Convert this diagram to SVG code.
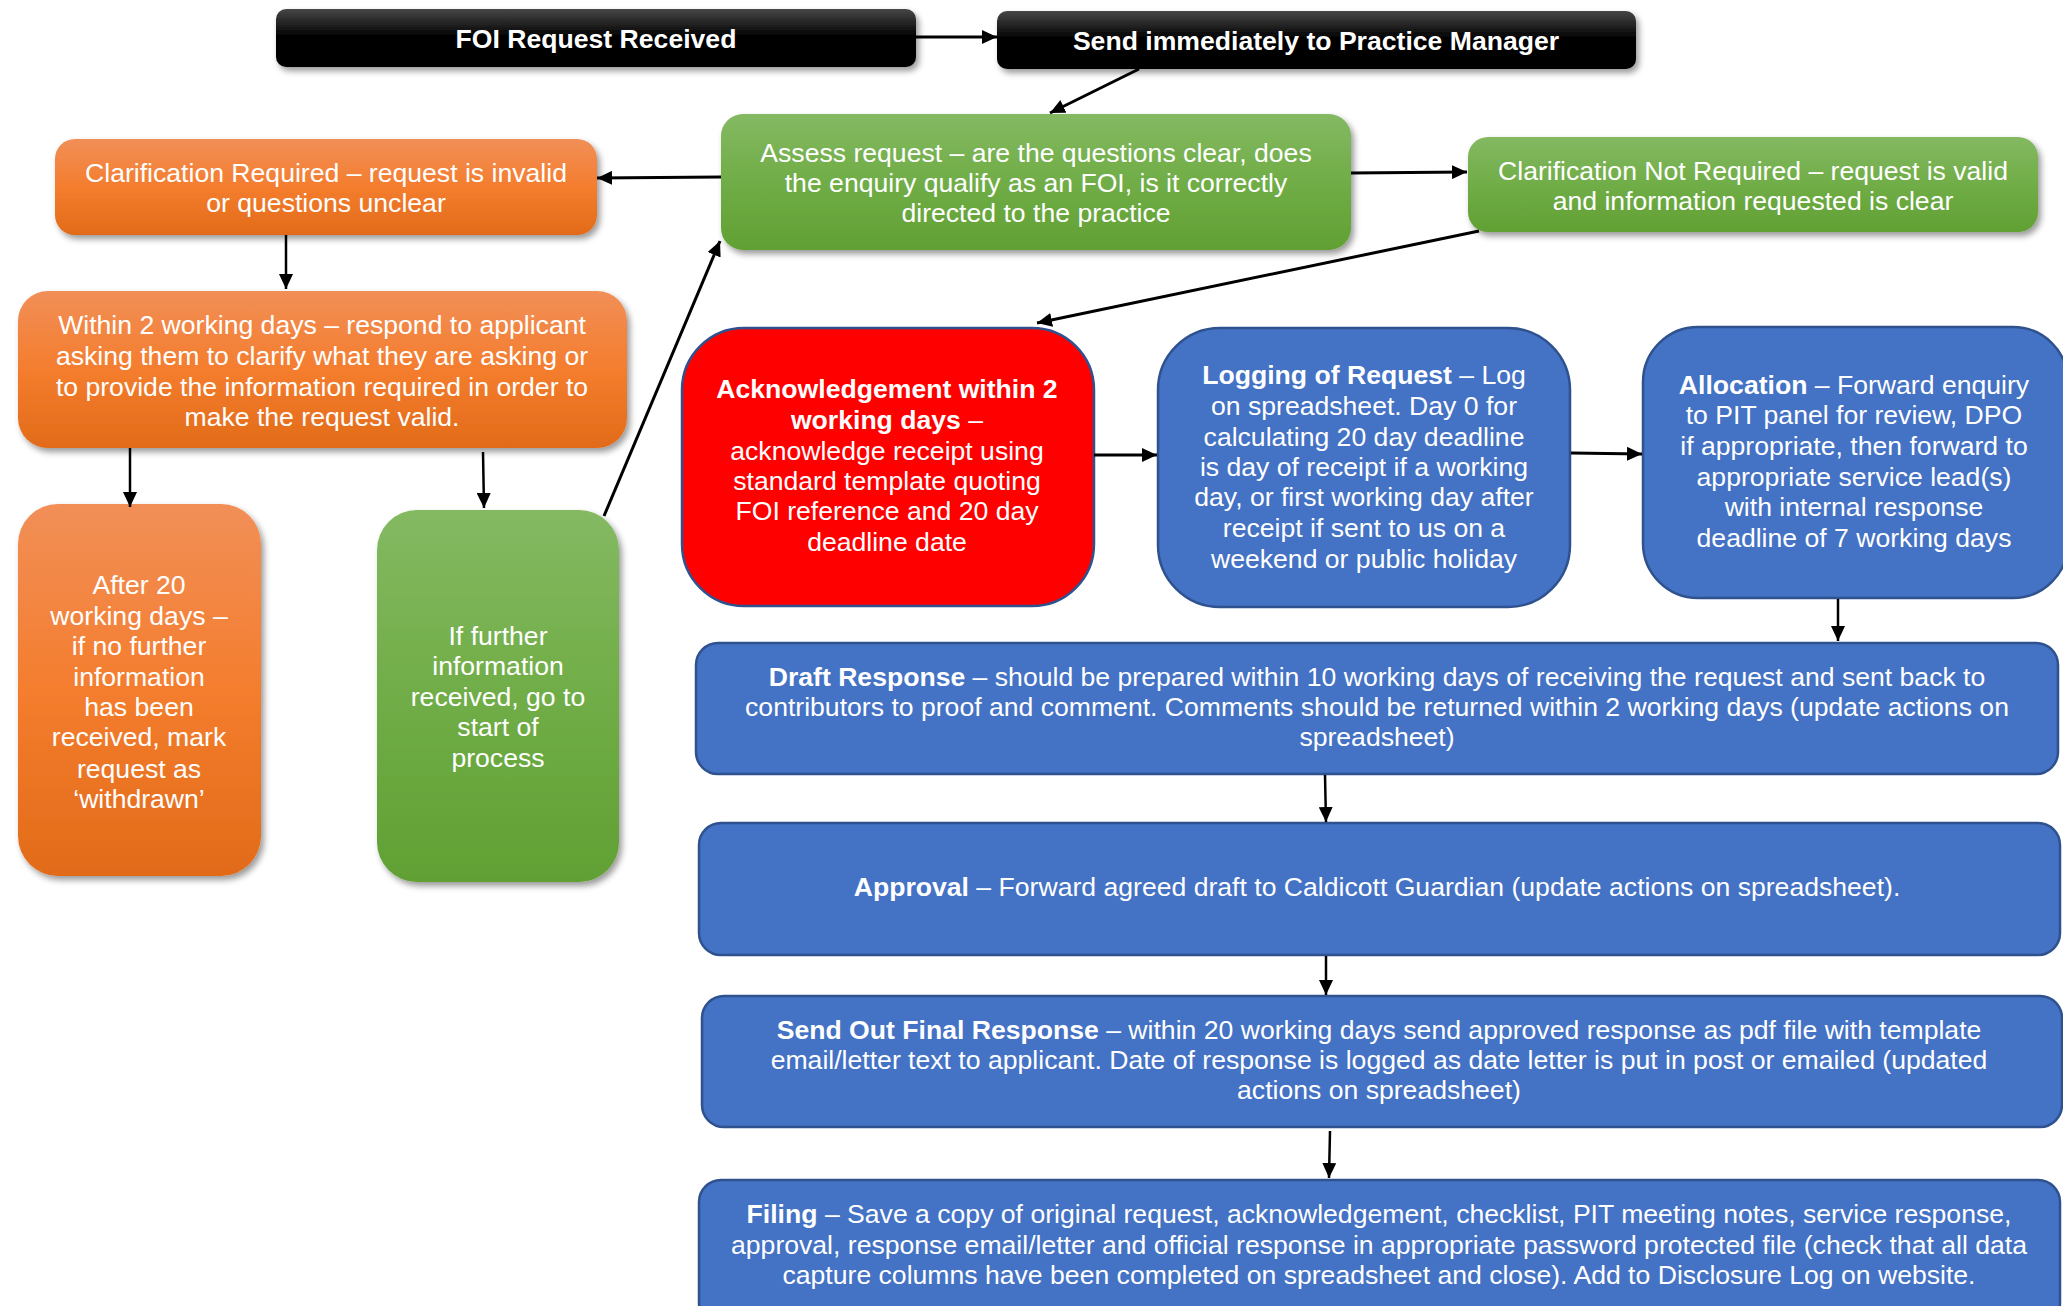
<svg xmlns="http://www.w3.org/2000/svg" width="2063" height="1306" viewBox="0 0 2063 1306">
<defs>
<linearGradient id="gBlack" x1="0" y1="0" x2="0" y2="1">
<stop offset="0" stop-color="#474747"/><stop offset="0.45" stop-color="#050505"/><stop offset="1" stop-color="#000"/>
</linearGradient>
<linearGradient id="gOrange" x1="0" y1="0" x2="0" y2="1">
<stop offset="0" stop-color="#F18F57"/><stop offset="0.5" stop-color="#F47D2E"/><stop offset="1" stop-color="#E26B19"/>
</linearGradient>
<linearGradient id="gGreen" x1="0" y1="0" x2="0" y2="1">
<stop offset="0" stop-color="#84B962"/><stop offset="0.5" stop-color="#70AD47"/><stop offset="1" stop-color="#61A033"/>
</linearGradient>
<filter id="shadow" x="-10%" y="-20%" width="125%" height="150%">
<feDropShadow dx="3" dy="4" stdDeviation="3" flood-color="#000" flood-opacity="0.4"/>
</filter>
<marker id="arr" markerUnits="userSpaceOnUse" markerWidth="16" markerHeight="14" refX="15" refY="7" orient="auto">
<path d="M0,0 L15,7 L0,14 z" fill="#000"/>
</marker>
</defs>
<style>
text{font-family:"Liberation Sans",Arial,sans-serif;font-size:26.6px;fill:#fff;text-anchor:middle}
.b{font-weight:bold}
.blk{fill:url(#gBlack);filter:url(#shadow)}
.org{fill:url(#gOrange);filter:url(#shadow)}
.grn{fill:url(#gGreen);filter:url(#shadow)}
.blu{fill:#4472C4;stroke:#2F528F;stroke-width:2.5}
.red{fill:#FF0000;stroke:#2F528F;stroke-width:2.5}
.c{stroke:#000;stroke-width:3;fill:none;marker-end:url(#arr)}
.t{stroke-width:2.5}
</style>
<rect width="2063" height="1306" fill="#fff"/>

<g id="foi-received">
<rect class="blk" x="276" y="9" width="640" height="58" rx="10"/>
<text class="b" x="596" y="48">FOI Request Received</text>
</g>
<g id="send-pm">
<rect class="blk" x="997" y="11" width="639" height="58" rx="10"/>
<text class="b" x="1316" y="50">Send immediately to Practice Manager</text>
</g>
<g id="assess">
<rect class="grn" x="721" y="114" width="630" height="136" rx="22"/>
<text x="1036" y="162">Assess request – are the questions clear, does</text>
<text x="1036" y="192">the enquiry qualify as an FOI, is it correctly</text>
<text x="1036" y="222">directed to the practice</text>
</g>
<g id="clar-required">
<rect class="org" x="55" y="139" width="542" height="96" rx="20"/>
<text x="326" y="182">Clarification Required – request is invalid</text>
<text x="326" y="212">or questions unclear</text>
</g>
<g id="clar-not-required">
<rect class="grn" x="1468" y="137" width="570" height="95" rx="20"/>
<text x="1753" y="180">Clarification Not Required – request is valid</text>
<text x="1753" y="210">and information requested is clear</text>
</g>
<g id="within-2">
<rect class="org" x="18" y="291" width="609" height="157" rx="30"/>
<text x="322" y="334">Within 2 working days – respond to applicant</text>
<text x="322" y="365">asking them to clarify what they are asking or</text>
<text x="322" y="396">to provide the information required in order to</text>
<text x="322" y="426">make the request valid.</text>
</g>
<g id="after-20">
<rect class="org" x="18" y="504" width="243" height="372" rx="40"/>
<text x="139" y="594">After 20</text>
<text x="139" y="625">working days –</text>
<text x="139" y="655">if no further</text>
<text x="139" y="686">information</text>
<text x="139" y="716">has been</text>
<text x="139" y="746">received, mark</text>
<text x="139" y="778">request as</text>
<text x="139" y="808">‘withdrawn’</text>
</g>
<g id="if-further">
<rect class="grn" x="377" y="510" width="242" height="372" rx="40"/>
<text x="498" y="645">If further</text>
<text x="498" y="675">information</text>
<text x="498" y="706">received, go to</text>
<text x="498" y="736">start of</text>
<text x="498" y="767">process</text>
</g>
<g id="acknowledgement">
<rect class="red" x="682" y="328" width="412" height="278" rx="62"/>
<text class="b" x="887" y="398">Acknowledgement within 2</text>
<text x="887" y="429"><tspan class="b">working days</tspan> –</text>
<text x="887" y="460">acknowledge receipt using</text>
<text x="887" y="490">standard template quoting</text>
<text x="887" y="520">FOI reference and 20 day</text>
<text x="887" y="551">deadline date</text>
</g>
<g id="logging">
<rect class="blu" x="1158" y="328" width="412" height="279" rx="62"/>
<text x="1364" y="384"><tspan class="b">Logging of Request</tspan> – Log</text>
<text x="1364" y="415">on spreadsheet. Day 0 for</text>
<text x="1364" y="446">calculating 20 day deadline</text>
<text x="1364" y="476">is day of receipt if a working</text>
<text x="1364" y="506">day, or first working day after</text>
<text x="1364" y="537">receipt if sent to us on a</text>
<text x="1364" y="568">weekend or public holiday</text>
</g>
<g id="allocation">
<rect class="blu" x="1643" y="327" width="425" height="271" rx="55"/>
<text x="1854" y="394"><tspan class="b">Allocation</tspan> – Forward enquiry</text>
<text x="1854" y="424">to PIT panel for review, DPO</text>
<text x="1854" y="455">if appropriate, then forward to</text>
<text x="1854" y="486">appropriate service lead(s)</text>
<text x="1854" y="516">with internal response</text>
<text x="1854" y="547">deadline of 7 working days</text>
</g>
<g id="draft">
<rect class="blu" x="696" y="643" width="1362" height="131" rx="22"/>
<text x="1377" y="686"><tspan class="b">Draft Response</tspan> – should be prepared within 10 working days of receiving the request and sent back to</text>
<text x="1377" y="716">contributors to proof and comment. Comments should be returned within 2 working days (update actions on</text>
<text x="1377" y="746">spreadsheet)</text>
</g>
<g id="approval">
<rect class="blu" x="699" y="823" width="1361" height="132" rx="22"/>
<text x="1377" y="896"><tspan class="b">Approval</tspan> – Forward agreed draft to Caldicott Guardian (update actions on spreadsheet).</text>
</g>
<g id="send-out">
<rect class="blu" x="702" y="996" width="1360" height="131" rx="22"/>
<text x="1379" y="1039"><tspan class="b">Send Out Final Response</tspan> – within 20 working days send approved response as pdf file with template</text>
<text x="1379" y="1069">email/letter text to applicant. Date of response is logged as date letter is put in post or emailed (updated</text>
<text x="1379" y="1099">actions on spreadsheet)</text>
</g>
<g id="filing">
<rect class="blu" x="699" y="1180" width="1361" height="145" rx="22"/>
<text x="1379" y="1223"><tspan class="b">Filing</tspan> – Save a copy of original request, acknowledgement, checklist, PIT meeting notes, service response,</text>
<text x="1379" y="1254">approval, response email/letter and official response in appropriate password protected file (check that all data</text>
<text x="1379" y="1284">capture columns have been completed on spreadsheet and close). Add to Disclosure Log on website.</text>
</g>

<g id="connectors">
<line class="c" x1="916" y1="37" x2="997" y2="37"/>
<line class="c" x1="1139" y1="69" x2="1050" y2="113"/>
<line class="c" x1="721" y1="177" x2="597" y2="178"/>
<line class="c" x1="1351" y1="173" x2="1467" y2="172"/>
<line class="c" x1="1479" y1="231" x2="1037" y2="323"/>
<line class="c t" x1="286" y1="235" x2="286" y2="289"/>
<line class="c t" x1="130" y1="448" x2="130" y2="507"/>
<line class="c t" x1="483" y1="452" x2="484" y2="508"/>
<line class="c" x1="604" y1="516" x2="720" y2="241"/>
<line class="c" x1="1094" y1="455" x2="1157" y2="455"/>
<line class="c" x1="1571" y1="453" x2="1642" y2="454"/>
<line class="c t" x1="1838" y1="599" x2="1838" y2="641"/>
<line class="c t" x1="1325" y1="775" x2="1326" y2="822"/>
<line class="c t" x1="1326" y1="956" x2="1326" y2="995"/>
<line class="c t" x1="1330" y1="1131" x2="1329" y2="1178"/>
</g>
</svg>
